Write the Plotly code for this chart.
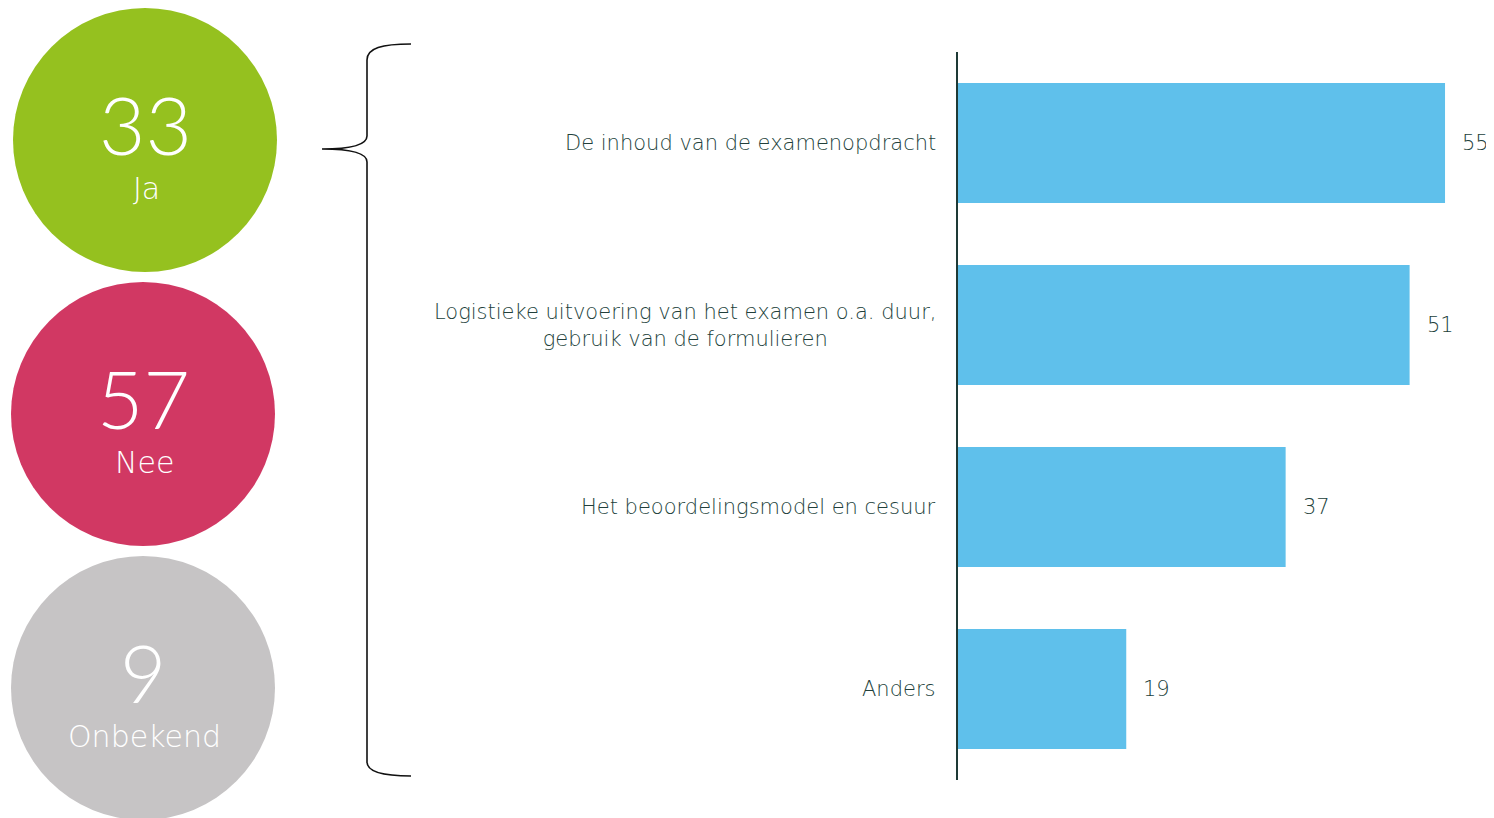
import plotly.graph_objects as go

# Data
circle_values = [33, 57, 9]
circle_labels = ["Ja", "Nee", "Onbekend"]
circle_colors = ["#95C11F", "#D13863", "#C6C4C5"]

categories = [
    "De inhoud van de examenopdracht",
    "Logistieke uitvoering van het examen o.a. duur,<br>gebruik van de formulieren",
    "Het beoordelingsmodel en cesuur",
    "Anders",
]
values = [55, 51, 37, 19]

# page offset (body margin of the html page)
OX, OY = 8, 8
W, H = 1494 - OX, 818 - OY
TEXT = "#223F3B"
FONT = "DejaVu Sans"


def px(x):
    return (x - OX) / W


def py(y):
    return 1 - (y - OY) / H


fig = go.Figure()

fig.add_trace(go.Bar(
    y=categories, x=values, orientation="h",
    marker=dict(color="#5FC0EB", line=dict(width=0)),
    hoverinfo="skip", showlegend=False,
))

cx = [145, 143, 143]
cy = [140, 414, 688]
fig.add_trace(go.Scatter(
    x=cx, y=cy, xaxis="x2", yaxis="y2", mode="markers",
    marker=dict(size=264, color=circle_colors, line=dict(width=0)),
    hoverinfo="skip", showlegend=False,
))

annotations = []
for i, (v, lab) in enumerate(zip(circle_values, circle_labels)):
    annotations.append(dict(x=cx[i], y=cy[i] - 16, xref="x2", yref="y2", text=str(v),
                            showarrow=False, font=dict(family="Lato", size=80, color="white", weight=300)))
    annotations.append(dict(x=cx[i] + 1, y=cy[i] + 48, xref="x2", yref="y2", text=lab,
                            showarrow=False, font=dict(family=FONT, size=30, color="white", weight=200)))

for c, v in zip(categories, values):
    annotations.append(dict(x=px(958), xref="paper", y=c, yref="y", xanchor="right", xshift=-20,
                            text=c, align="center", showarrow=False,
                            font=dict(family=FONT, size=21, color=TEXT, weight=200)))
    annotations.append(dict(x=v, xref="x", y=c, yref="y", xanchor="left", xshift=15,
                            text=str(v), showarrow=False,
                            font=dict(family=FONT, size=21, color=TEXT, weight=200)))

brace = ("M 411,44 C 382,44 367,48 367,60 L 367,136 C 367,145 350,149 322,149 "
         "C 350,149 367,153 367,162 L 367,762 C 367,771 382,776 411,776")

fig.update_layout(
    width=W, height=H,
    margin=dict(l=0, r=0, t=0, b=0),
    paper_bgcolor="white", plot_bgcolor="rgba(0,0,0,0)",
    bargap=0.34,
    xaxis=dict(domain=[px(958), px(1489.3)], range=[0, 60], visible=False, fixedrange=True),
    yaxis=dict(domain=[py(780), py(52)], categoryorder="array", categoryarray=categories,
               autorange="reversed", showticklabels=False, showgrid=False, zeroline=False,
               showline=True, linecolor="#1E3A36", linewidth=2, ticks="", fixedrange=True),
    xaxis2=dict(domain=[0, 1], range=[OX, OX + W], visible=False, anchor="y2", fixedrange=True),
    yaxis2=dict(domain=[0, 1], range=[OY + H, OY], visible=False, anchor="x2", fixedrange=True),
    shapes=[dict(type="path", path=brace, xref="x2", yref="y2", line=dict(color="#111111", width=1.6))],
    annotations=annotations,
)

fig.write_html("out.html")
